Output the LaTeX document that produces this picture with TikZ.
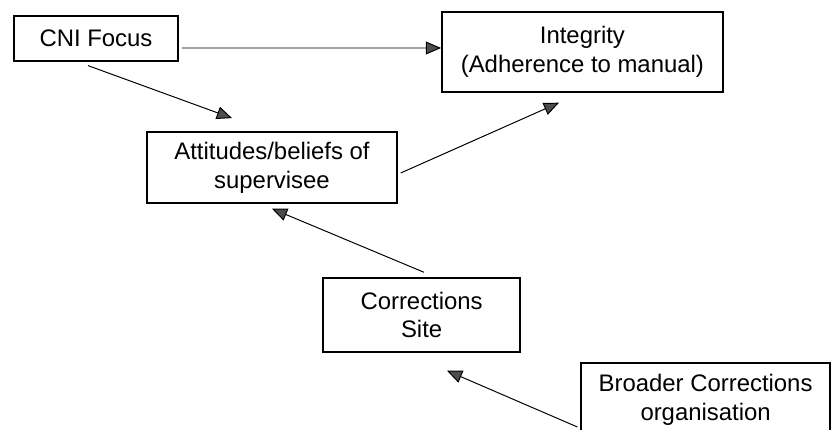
\documentclass[tikz,border=0pt]{standalone}
\usepackage{fontspec}
\setmainfont{Liberation Sans}
\usetikzlibrary{arrows.meta}
\begin{document}
\begin{tikzpicture}[scale=1,
        box/.style={draw, line width=1pt, align=center, inner sep=0pt, font=\fontsize{17}{20.5}\selectfont},
        >={Triangle[length=3.8mm, width=3.2mm, fill=black!70]}]
        \useasboundingbox (0,0) rectangle (20.925,-10.75);
        \node[box, minimum width=4.1cm, minimum height=1.125cm] (cni) at (2.4,-0.96) {CNI Focus};
        \node[box, minimum width=7.03cm, minimum height=2cm] (integ) at (14.56,-1.3) {Integrity\\(Adherence to manual)};
        \node[box, minimum width=6.25cm, minimum height=1.78cm] (att) at (6.8,-4.19) {Attitudes/beliefs of\\supervisee};
        \node[box, minimum width=4.925cm, minimum height=1.85cm] (corr) at (10.54,-7.875) {Corrections\\Site};
        \node[box, minimum width=6.225cm, minimum height=1.85cm] (broad) at (17.64,-10.0) {Broader Corrections\\organisation};
        \draw[->, line width=0.7pt] ([shift={(0.08,-0.24)}]cni.east) -- ([yshift=0.1cm]integ.west) ;
        \draw[->, line width=0.7pt] ([shift={(-0.2,-0.1)}]cni.south) -- ([shift={(-1.0,0.33)}]att.north) ;
        \draw[->, line width=0.7pt] ([shift={(0.075,-0.135)}]att.east) -- ([shift={(-0.585,-0.25)}]integ.south) ;
        \draw[->, line width=0.7pt] ([shift={(0.06,0.125)}]corr.north) -- ([shift={(0,-0.12)}]att.south) ;
        \draw[->, line width=0.7pt] ([shift={(-0.075,-0.675)}]broad.west) -- ([shift={(0.635,-0.45)}]corr.south) ;
\end{tikzpicture}
\end{document}
